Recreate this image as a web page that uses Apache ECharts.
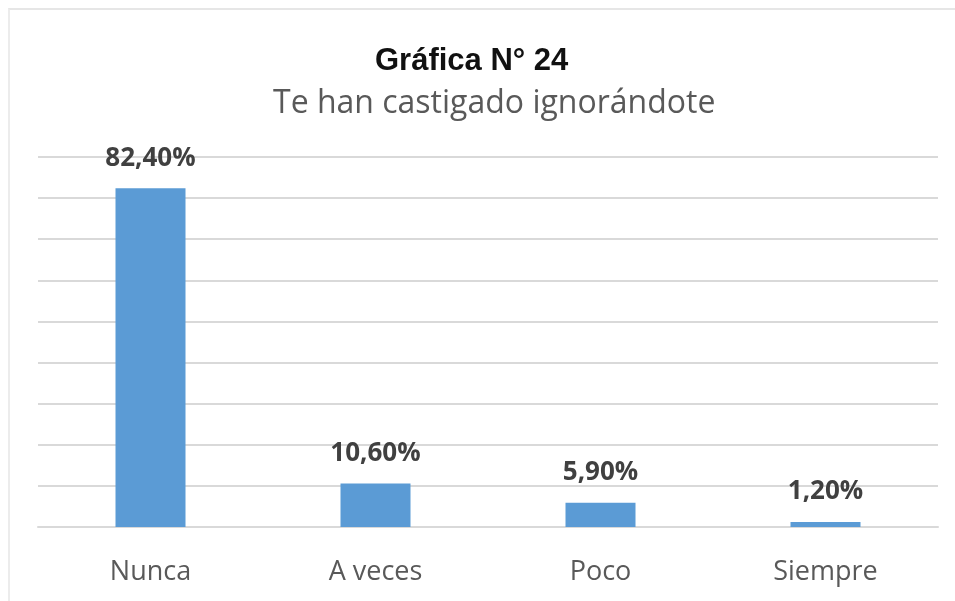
<!DOCTYPE html>
<html>
<head>
<meta charset="utf-8">
<script src="https://cdn.jsdelivr.net/npm/echarts@6/dist/echarts.min.js"></script>
<style>
  html, body { margin: 0; padding: 0; background: #fff; }
  #main {
    position: absolute; left: 0; top: 0;
    width: 955px; height: 601px;
  }
  .frame {
    position: absolute; left: 8px; top: 8px; width: 947px; height: 593px;
    border-top: 2px solid #e6e6e6; border-left: 2px solid #ececec;
    box-sizing: border-box; pointer-events: none;
  }
</style>
</head>
<body>
<div id="main"></div>
<div class="frame"></div>
<script>
// datos de la gráfica
var categories = ["Nunca", "A veces", "Poco", "Siempre"];
var values = [82.4, 10.6, 5.9, 1.2];
var yMin = 0, yMax = 90, yStep = 10;

var myChart = echarts.init(document.getElementById("main"));
var option = {
  backgroundColor: "transparent",
  animation: false,
  title: [
    {
      text: "Gráfica N° 24",
      left: 370,
      top: 41,
      textStyle: { fontFamily: "Liberation Sans", fontWeight: "bold", fontSize: 31, color: "#111" }
    },
    {
      text: "Te han castigado ignorándote",
      left: 268,
      top: 83,
      textStyle: { fontFamily: "Open Sans", fontWeight: "normal", fontSize: 32, color: "#595959" }
    }
  ],
  grid: { left: 38, right: 17, top: 157, bottom: 74 },
  xAxis: {
    type: "category",
    data: categories,
    axisLine: { show: true, lineStyle: { color: "#d9d9d9", width: 2 } },
    axisTick: { show: false },
    axisLabel: { margin: 32, fontFamily: "Open Sans", fontSize: 27, color: "#595959" }
  },
  yAxis: {
    type: "value",
    min: yMin,
    max: yMax,
    interval: yStep,
    axisLabel: { show: false },
    axisLine: { show: false },
    axisTick: { show: false },
    splitLine: { lineStyle: { color: "#d9d9d9", width: 2 } }
  },
  series: [
    {
      type: "bar",
      data: values,
      barWidth: 70,
      itemStyle: { color: "#5b9bd5" },
      label: {
        show: true,
        position: "top",
        distance: 17,
        fontFamily: "Open Sans",
        fontWeight: "bold",
        fontSize: 26,
        color: "#404040",
        formatter: function (p) { return p.value.toFixed(2).replace(".", ",") + "%"; }
      }
    }
  ]
};
option && myChart.setOption(option);
</script>
</body>
</html>
